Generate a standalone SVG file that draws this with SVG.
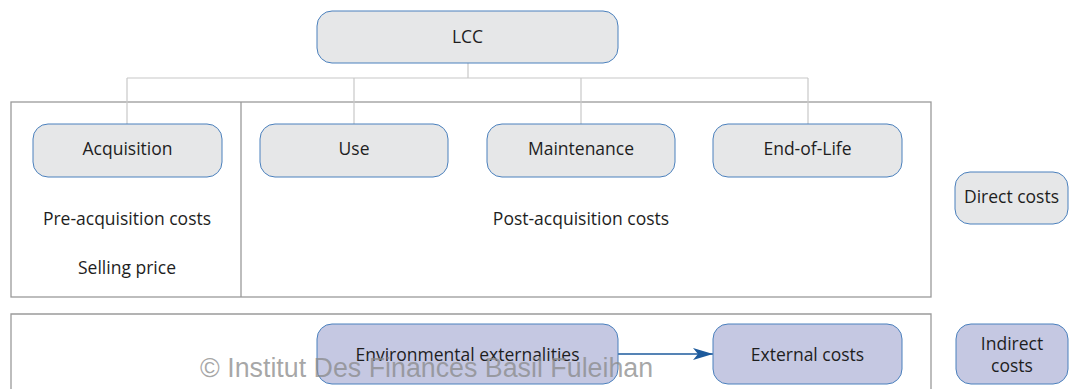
<svg xmlns="http://www.w3.org/2000/svg" width="1074" height="389" viewBox="0 0 1074 389">
<defs>
<style>
.n{fill:#e6e7e8;stroke:#4a80bd;stroke-width:1}
.b{fill:#c5c8e2;stroke:#4a80bd;stroke-width:1}
.t{font-family:"Open Sans","Noto Sans",sans-serif;font-size:17.5px;fill:#1e1e1e;text-anchor:middle}
.frame{fill:none;stroke:#9a9a9a;stroke-width:1.3}
.tree{fill:none;stroke:#c8c8c8;stroke-width:1.2}
.wm{font-family:"Liberation Sans",Arial,sans-serif;font-size:26.8px;fill:#8a8a8a;fill-opacity:0.75}
</style>
<marker id="ah" viewBox="0 0 20 12" refX="20" refY="6" markerWidth="20" markerHeight="12" markerUnits="userSpaceOnUse" orient="auto">
<path d="M0,0 L20,6 L0,12 L5,6 Z" fill="#1d5a9c"/>
</marker>
</defs>
<rect width="1074" height="389" fill="#fff"/>
<g id="frames">
<rect class="frame" x="11" y="102" width="920" height="195"/>
<line class="frame" x1="241" y1="102" x2="241" y2="297"/>
<path class="frame" d="M11,395 V314 H931 V395"/>
</g>
<g id="connectors">
<path class="tree" d="M468,63 V78 M127,78 H808 M127,78 V124 M354,78 V124 M581,78 V124 M808,78 V124"/>
<line x1="618" y1="354" x2="713" y2="354" stroke="#1d5a9c" stroke-width="1.5" marker-end="url(#ah)"/>
</g>
<g id="lcc"><rect class="n" x="317" y="11" width="301" height="52" rx="15"/><text class="t" x="467.5" y="43">LCC</text></g>
<g id="acquisition"><rect class="n" x="33" y="124" width="189" height="53" rx="15"/><text class="t" x="127.5" y="155">Acquisition</text></g>
<g id="use"><rect class="n" x="260" y="124" width="188" height="53" rx="15"/><text class="t" x="354" y="155">Use</text></g>
<g id="maintenance"><rect class="n" x="487" y="124" width="188" height="53" rx="15"/><text class="t" x="581" y="155">Maintenance</text></g>
<g id="endoflife"><rect class="n" x="713" y="124" width="189" height="53" rx="15"/><text class="t" x="807.5" y="155">End-of-Life</text></g>
<g id="directcosts"><rect class="n" x="955" y="172" width="113" height="52" rx="15"/><text class="t" x="1011.5" y="203">Direct costs</text></g>
<g id="labels">
<text class="t" x="127" y="225">Pre-acquisition costs</text>
<text class="t" x="127" y="274">Selling price</text>
<text class="t" x="581" y="225">Post-acquisition costs</text>
</g>
<g id="envext"><rect class="b" x="317" y="324" width="301" height="60" rx="15"/><text class="t" x="467.5" y="361">Environmental externalities</text></g>
<g id="externalcosts"><rect class="b" x="713" y="324" width="189" height="60" rx="15"/><text class="t" x="807.5" y="361">External costs</text></g>
<g id="indirectcosts"><rect class="b" x="956" y="324" width="112" height="60" rx="15"/><text class="t" x="1012" y="350">Indirect</text><text class="t" x="1012" y="372">costs</text></g>
<text class="wm" x="200" y="377">© Institut Des Finances Basil Fuleihan</text>
</svg>
